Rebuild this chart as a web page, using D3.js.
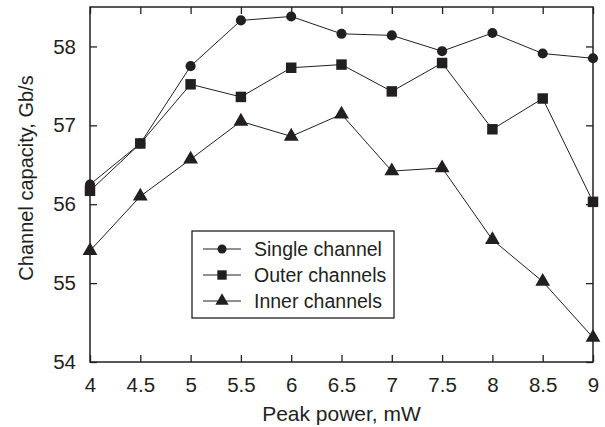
<!DOCTYPE html>
<html>
<head>
<meta charset="utf-8">
<script src="https://cdn.jsdelivr.net/npm/d3@7"></script>
<style>
  body { margin: 0; background: #fff; }
  svg { display: block; font-family: "Liberation Sans", Arial, Helvetica, sans-serif; }
</style>
</head>
<body>
<svg id="chart"></svg>
<script>
let ink = "#231f20";

const power = [4, 4.5, 5, 5.5, 6, 6.5, 7, 7.5, 8, 8.5, 9];
const singleChannel = [56.25, 56.77, 57.75, 58.33, 58.38, 58.16, 58.14, 57.94, 58.17, 57.91, 57.85];
const outerChannels = [56.17, 56.77, 57.52, 57.36, 57.73, 57.77, 57.43, 57.79, 56.95, 57.34, 56.03];
const innerChannels = [55.41, 56.10, 56.57, 57.05, 56.86, 57.14, 56.42, 56.46, 55.55, 55.02, 54.31];
const seriesNames = ["Single channel", "Outer channels", "Inner channels"];
const xTicks = [4, 4.5, 5, 5.5, 6, 6.5, 7, 7.5, 8, 8.5, 9];
const yTicks = [54, 55, 56, 57, 58];

const width = 605;
const height = 427;
const margin = { top: 7, right: 12, bottom: 65, left: 90 };

let boundedWidth = width - margin.left - margin.right;
let boundedHeight = height - margin.top - margin.bottom;

const series = [
  { name: seriesNames[0], values: singleChannel, symbol: d3.symbolCircle, size: 80 },
  { name: seriesNames[1], values: outerChannels, symbol: d3.symbolSquare, size: 110 },
  { name: seriesNames[2], values: innerChannels, symbol: d3.symbolTriangle, size: 95 }
];

const svg = d3.select("#chart")
  .attr("width", width)
  .attr("height", height);

const g = svg.append("g")
  .attr("transform", `translate(${margin.left}, ${margin.top})`);

const xScale = d3.scaleLinear()
  .domain([4, 9])
  .range([0, boundedWidth]);

const yScale = d3.scaleLinear()
  .domain([54, 58.5])
  .range([boundedHeight, 0]);

//axes, ticks pointing inward on all four sides
function styleAxis(sel) {
  sel.select(".domain").remove();
  sel.selectAll(".tick line").attr("stroke", ink).attr("stroke-width", 1.3);
  sel.selectAll(".tick text")
    .attr("fill", ink)
    .style("font-size", "20.5px")
    .style("font-family", "'Liberation Sans', Arial, sans-serif");
}

g.append("g")
  .attr("transform", `translate(0, ${boundedHeight})`)
  .call(d3.axisBottom(xScale).tickValues(xTicks).tickFormat(d3.format("")).tickSizeInner(-7).tickPadding(15))
  .call(styleAxis);

g.append("g")
  .call(d3.axisTop(xScale).tickValues(xTicks).tickFormat("").tickSizeInner(-7))
  .call(styleAxis);

g.append("g")
  .call(d3.axisLeft(yScale).tickValues(yTicks).tickFormat(d3.format("")).tickSizeInner(-7).tickPadding(14))
  .call(styleAxis);

g.append("g")
  .attr("transform", `translate(${boundedWidth}, 0)`)
  .call(d3.axisRight(yScale).tickValues(yTicks).tickFormat("").tickSizeInner(-7))
  .call(styleAxis);

g.append("rect")
  .attr("width", boundedWidth)
  .attr("height", boundedHeight)
  .attr("fill", "none")
  .attr("stroke", ink)
  .attr("stroke-width", 1.5);

//lines and markers
const line = d3.line()
  .x((d, i) => xScale(power[i]))
  .y(d => yScale(d));

series.forEach(s => {
  g.append("path")
    .datum(s.values)
    .attr("d", line)
    .attr("fill", "none")
    .attr("stroke", ink)
    .attr("stroke-width", 1);

  g.selectAll(null)
    .data(s.values)
    .enter()
    .append("path")
    .attr("d", d3.symbol(s.symbol, s.size))
    .attr("transform", (d, i) => `translate(${xScale(power[i])}, ${yScale(d)})`)
    .attr("fill", ink);
});

//legend
const legend = g.append("g")
  .attr("transform", `translate(${192 - margin.left}, ${231 - margin.top})`);

legend.append("rect")
  .attr("width", 202)
  .attr("height", 87)
  .attr("fill", "#fff")
  .attr("stroke", ink)
  .attr("stroke-width", 1.3);

series.forEach((s, i) => {
  const row = legend.append("g")
    .attr("transform", `translate(0, ${18 + i * 26})`);
  row.append("line")
    .attr("x1", 11).attr("x2", 49)
    .attr("stroke", ink).attr("stroke-width", 1);
  row.append("path")
    .attr("d", d3.symbol(s.symbol, s.size * 0.8))
    .attr("transform", "translate(30, 0)")
    .attr("fill", ink);
  row.append("text")
    .attr("x", 62)
    .attr("dy", "0.35em")
    .attr("fill", ink)
    .style("font-size", "19.5px")
    .text(s.name);
});

//axis titles
svg.append("text")
  .attr("x", margin.left + boundedWidth / 2)
  .attr("y", 421)
  .attr("text-anchor", "middle")
  .attr("fill", ink)
  .style("font-size", "21px")
  .text("Peak power, mW");

svg.append("text")
  .attr("transform", "translate(33, 178) rotate(-90)")
  .attr("text-anchor", "middle")
  .attr("fill", ink)
  .style("font-size", "20px")
  .text("Channel capacity, Gb/s");
</script>
</body>
</html>
